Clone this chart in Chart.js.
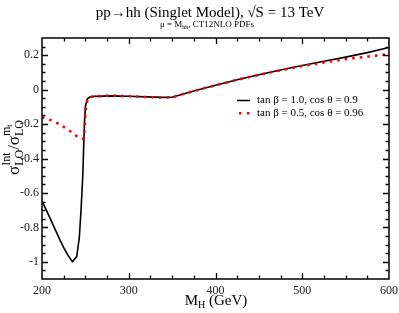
<!DOCTYPE html>
<html>
<head>
<meta charset="utf-8">
<script src="https://cdn.jsdelivr.net/npm/chart.js@4/dist/chart.umd.min.js"></script>
<style>
html,body{margin:0;padding:0;background:#fff;}
canvas{display:block;}
</style>
</head>
<body>
<canvas id="c" width="399" height="313"></canvas>
<script>
// ---- data ----
const mhBlack = [200,205,210,215,220,225,230,235,240,243,245,247,248,249,250,252,255,260,280,300,320,340,350,375,400,425,450,475,500,525,550,575,600];
const sigBlack = [-0.648,-0.70,-0.755,-0.81,-0.865,-0.918,-0.963,-1.0,-0.97,-0.86,-0.70,-0.50,-0.34,-0.19,-0.10,-0.055,-0.043,-0.039,-0.036,-0.038,-0.042,-0.045,-0.044,-0.008,0.025,0.057,0.087,0.114,0.14,0.165,0.189,0.215,0.245];
const mhRed = [200,210,220,230,240,245,248,249,250,251,253,258,270,280,290,300,320,340,350,375,400,425,450,475,500,525,550,575,600];
const sigRed = [-0.16,-0.177,-0.2,-0.232,-0.27,-0.284,-0.285,-0.24,-0.14,-0.09,-0.05,-0.04,-0.037,-0.033,-0.037,-0.038,-0.043,-0.046,-0.044,-0.008,0.025,0.057,0.086,0.112,0.137,0.158,0.177,0.192,0.207];
const xTickLabels = [200,300,400,500,600];
const yTickLabels = [-1,-0.8,-0.6,-0.4,-0.2,0,0.2];
const legendLabels = ["tan \u03B2 = 1.0, cos \u03B8 = 0.9", "tan \u03B2 = 0.5, cos \u03B8 = 0.96"];

const SERIF = '"Liberation Serif", "DejaVu Serif", serif';

function drawRich(ctx, x, y, parts, align) {
  let total = 0;
  parts.forEach(p => { ctx.font = p.size + 'px ' + SERIF; p.w = ctx.measureText(p.t).width; total += p.w; });
  let cx = align === 'center' ? x - total / 2 : x;
  ctx.textAlign = 'left';
  ctx.textBaseline = 'alphabetic';
  parts.forEach(p => {
    ctx.font = p.size + 'px ' + SERIF;
    ctx.fillText(p.t, cx, y + (p.dy || 0)); cx += p.w;
  });
}

const decor = {
  id: 'decor',
  afterDraw(chart) {
    const ctx = chart.ctx;
    const a = chart.chartArea;
    const xs = chart.scales.x, ys = chart.scales.y;
    ctx.save();
    ctx.strokeStyle = '#000';
    ctx.fillStyle = '#000';
    ctx.lineWidth = 1.3;
    ctx.beginPath();
    for (let v = 200; v <= 600; v += 25) {
      if (v === 200 || v === 600) continue;
      const px = Math.round(xs.getPixelForValue(v)) + 0.5;
      const len = (v % 100 === 0) ? 6 : 3.5;
      ctx.moveTo(px, a.bottom); ctx.lineTo(px, a.bottom - len);
      ctx.moveTo(px, a.top); ctx.lineTo(px, a.top + len);
    }
    for (let k = -22; k <= 6; k++) {
      const v = k * 0.05;
      if (k === -22 || k === 6) continue;
      const py = Math.round(ys.getPixelForValue(v)) + 0.5;
      const len = (k % 4 === 0) ? 6 : 3.5;
      ctx.moveTo(a.left, py); ctx.lineTo(a.left + len, py);
      ctx.moveTo(a.right, py); ctx.lineTo(a.right - len, py);
    }
    ctx.stroke();
    ctx.lineWidth = 1.5;
    ctx.strokeRect(a.left, a.top, a.right - a.left, a.bottom - a.top);

    // legend
    ctx.lineWidth = 1.5;
    ctx.beginPath(); ctx.moveTo(237, 100.5); ctx.lineTo(250, 100.5); ctx.stroke();
    ctx.fillStyle = '#ff0000';
    ctx.fillRect(239, 112, 2.5, 2.5);
    ctx.fillRect(247, 112, 2.5, 2.5);
    ctx.fillStyle = '#000';
    ctx.font = '11px ' + SERIF;
    ctx.textAlign = 'left'; ctx.textBaseline = 'middle';
    ctx.fillText(legendLabels[0], 257, 100.5);
    ctx.fillText(legendLabels[1], 257, 113.5);

    // title
    ctx.textAlign = 'center'; ctx.textBaseline = 'alphabetic';
    ctx.font = '15px ' + SERIF;
    ctx.fillText('pp\u2192hh (Singlet Model), \u221AS = 13 TeV', 210, 17);
    drawRich(ctx, 207, 27, [
      {t: '\u03BC = M', size: 9},
      {t: 'hh', size: 6, dy: 2},
      {t: ', CT12NLO PDFs', size: 9}
    ], 'center');

    // x title
    drawRich(ctx, 216, 305, [
      {t: 'M', size: 15},
      {t: 'H', size: 10, dy: 3},
      {t: ' (GeV)', size: 15}
    ], 'center');

    // y title (rotated)
    ctx.save();
    ctx.translate(19, 147.5);
    ctx.rotate(-Math.PI / 2);
    ctx.font = '12px ' + SERIF;
    const wLO = ctx.measureText('LO').width;
    const wInt = ctx.measureText('Int').width;
    ctx.font = '17px ' + SERIF;
    const wS = ctx.measureText('\u03C3').width;
    const wSl = ctx.measureText('/').width;
    ctx.font = '12px ' + SERIF;
    const wm = ctx.measureText('m').width;
    ctx.font = '8px ' + SERIF;
    const wt = ctx.measureText('t').width;
    const seg1 = Math.max(wLO, wInt);
    const seg2 = Math.max(wLO, wm + wt);
    const total = wS + seg1 + wSl + wS + seg2;
    let cx = -total / 2;
    ctx.textAlign = 'left'; ctx.textBaseline = 'alphabetic';
    ctx.font = '17px ' + SERIF; ctx.fillText('\u03C3', cx, 0); cx += wS;
    ctx.font = '12px ' + SERIF; ctx.fillText('LO', cx, 4); ctx.fillText('Int', cx, -9); cx += seg1;
    ctx.font = '17px ' + SERIF; ctx.fillText('/', cx, 0); cx += wSl;
    ctx.fillText('\u03C3', cx, 0); cx += wS;
    ctx.font = '12px ' + SERIF; ctx.fillText('LO', cx, 4); ctx.fillText('m', cx, -9);
    ctx.font = '8px ' + SERIF; ctx.fillText('t', cx + wm, -7);
    ctx.restore();

    ctx.restore();
  }
};

new Chart(document.getElementById('c'), {
  type: 'line',
  data: {
    datasets: [
      {
        label: legendLabels[0],
        data: mhBlack.map((x, i) => ({x: x, y: sigBlack[i]})),
        borderColor: '#000000',
        borderWidth: 1.6,
        pointRadius: 0,
        tension: 0,
        order: 1
      },
      {
        label: legendLabels[1],
        data: mhRed.map((x, i) => ({x: x, y: sigRed[i]})),
        borderColor: '#ff0000',
        borderWidth: 2.6,
        borderDash: [2.6, 5],
        pointRadius: 0,
        tension: 0,
        order: 0
      }
    ]
  },
  options: {
    responsive: false,
    animation: false,
    devicePixelRatio: 1,
    layout: {padding: {top: 38, right: 10, left: 0, bottom: 0}},
    plugins: {legend: {display: false}, tooltip: {enabled: false}, title: {display: false}},
    scales: {
      x: {
        type: 'linear', min: 200, max: 600,
        afterBuildTicks: s => { s.ticks = xTickLabels.map(v => ({value: v})); },
        afterFit: s => { s.height = 34; s.paddingLeft = 0; s.paddingRight = 0; },
        grid: {display: false, drawTicks: false},
        border: {display: false},
        ticks: {font: {family: SERIF, size: 12}, color: '#222', padding: 5, maxRotation: 0,
          callback: v => String(v)}
      },
      y: {
        type: 'linear', min: -1.1, max: 0.3,
        afterBuildTicks: s => { s.ticks = yTickLabels.map(v => ({value: v})); },
        afterFit: s => { s.width = 42; s.paddingTop = 0; s.paddingBottom = 0; },
        grid: {display: false, drawTicks: false},
        border: {display: false},
        ticks: {font: {family: SERIF, size: 12}, color: '#222', padding: 3,
          callback: v => String(Math.round(v * 10) / 10)}
      }
    }
  },
  plugins: [decor]
});
</script>
</body>
</html>
